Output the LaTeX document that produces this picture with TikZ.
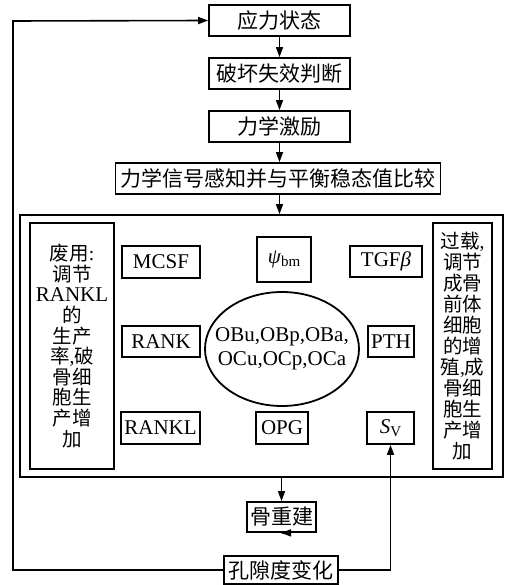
\documentclass[tikz,border=0pt]{standalone}
\usepackage{fontspec}
\setmainfont{Liberation Serif}
\newfontfamily\cjk{Noto Sans CJK SC}
\usetikzlibrary{arrows.meta,shapes.geometric}
\newcommand\fsz{\fontsize{21}{21}\selectfont}
\newcommand\subsz{\fontsize{15}{15}\selectfont}
\begin{document}
\begin{tikzpicture}[x=1pt,y=-1pt,
  bx/.style={draw, line width=1.8pt, inner sep=0pt, align=center, font=\fsz},
  arr/.style={-{Triangle[length=10pt,width=7pt]}, line width=1.6pt}]
\useasboundingbox (0,0) rectangle (511,585);
% top chain
\node[bx, minimum width=141, minimum height=31] (s1) at (279.5,20.5) {\cjk 应力状态};
\node[bx, minimum width=141, minimum height=31] (s2) at (279.5,73.5) {\cjk 破坏失效判断};
\node[bx, minimum width=141, minimum height=31] (s3) at (279.5,126.5) {\cjk 力学激励};
\node[bx, minimum width=325, minimum height=31] (s4) at (278,178.5) {\cjk 力学信号感知并与平衡稳态值比较};
% big box
\node[bx, minimum width=483, minimum height=262] (big) at (261.5,346) {};
% side boxes
\node[bx, minimum width=84, minimum height=246, font=\fontsize{19.5}{20.6}\selectfont] (lt) at (72,346)
  {{\cjk 废用}:\\{\cjk 调节}\\{\fontsize{21}{20.6}\selectfont RANKL}\\{\cjk 的}\\{\cjk 生产}\\{\cjk 率},{\cjk 破}\\{\cjk 骨细}\\{\cjk 胞生}\\{\cjk 产增}\\{\cjk 加}};
\node[bx, minimum width=59, minimum height=246, font=\fontsize{19.5}{21}\selectfont] (rt) at (462.5,346)
  {{\cjk 过载},\\{\cjk 调节}\\{\cjk 成骨}\\{\cjk 前体}\\{\cjk 细胞}\\{\cjk 的增}\\{\cjk 殖},{\cjk 成}\\{\cjk 骨细}\\{\cjk 胞生}\\{\cjk 产增}\\{\cjk 加}};
% inner factor boxes
\node[bx, minimum width=78, minimum height=32] (mcsf) at (161,262) {MCSF};
\node[bx, minimum width=78, minimum height=31] (rank) at (161,341.5) {RANK};
\node[bx, minimum width=79, minimum height=32] (rankl) at (160.5,428) {RANKL};
\node[bx, minimum width=54, minimum height=45] (psi) at (284,259.5) {\textit{ψ}\raisebox{-0.35ex}{\subsz bm}};
\node[bx, minimum width=52, minimum height=32] (opg) at (282,428) {OPG};
\node[bx, minimum width=72, minimum height=31] (tgf) at (386,261.5) {TGF\textit{β}};
\node[bx, minimum width=46, minimum height=31] (pth) at (391,341.5) {PTH};
\node[bx, minimum width=47, minimum height=32] (sv) at (390.5,428) {\textit{S}\raisebox{-0.35ex}{\subsz V}};
\node[inner sep=0pt, align=center, font=\fontsize{21}{24}\selectfont] (cells) at (282,349) {OBu,OBp,OBa,\\OCu,OCp,OCa};
\draw[line width=1.8pt] (cells.center) ellipse [x radius=77, y radius=57];
% bottom chain
\node[bx, minimum width=69, minimum height=30] (rem) at (281.5,517) {\cjk 骨重建};
\node[bx, minimum width=114, minimum height=28] (por) at (281,570) {\cjk 孔隙度变化};
% arrows
\draw[arr] (s1.south) -- (s2.north);
\draw[arr] (s2.south) -- (s3.north);
\draw[arr] (s3.south) -- (s3.south |- s4.north);
\draw[arr] (s3.south |- s4.south) -- (s3.south |- big.north);
\draw[arr] (rem.north |- big.south) -- (rem.north);
\draw[arr] (rem.south) -- (rem.south -| por.north);
\draw[arr] (por.west) -- (13,570) -- (13,21) -- (s1.west);
\draw[arr] (por.east) -- (sv.south |- por.east) -- (sv.south);
\end{tikzpicture}
\end{document}
